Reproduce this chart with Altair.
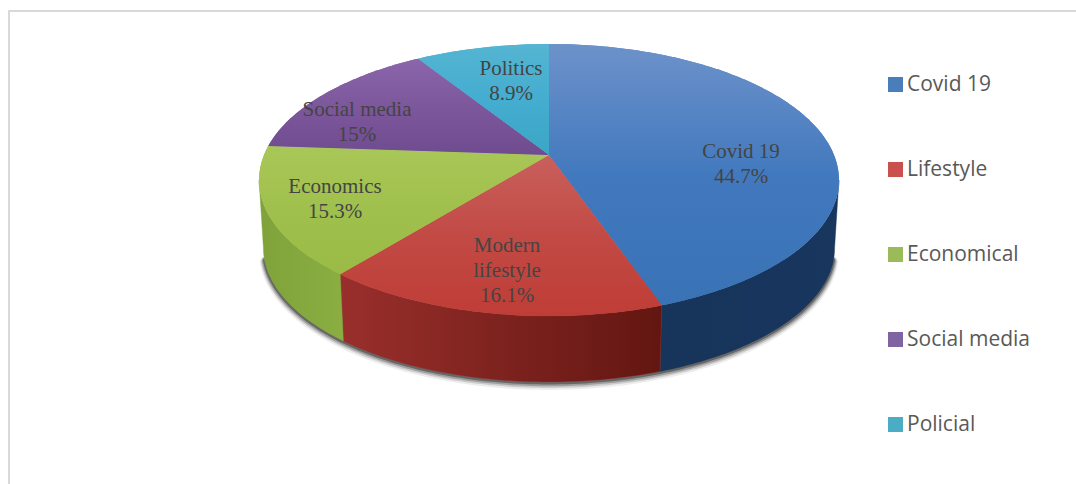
import math
import altair as alt

# Slice values, clockwise from twelve o'clock
SHARES = [44.7, 16.1, 15.3, 15, 8.9]
SLICE_NAMES = ["Covid 19", "Modern\nlifestyle", "Economics", "Social media", "Politics"]
LEGEND_NAMES = ["Covid 19", "Lifestyle", "Economical", "Social media", "Policial"]

FLAT_COLORS = ["#4a7ebb", "#c9504c", "#9bbb59", "#8064a2", "#4bacc6"]
TOP_STOPS = [
    ["#6d92ca", "#4279be", "#3a72b6"],
    ["#c9605c", "#c24a45", "#bf3d36"],
    ["#a9c758", "#a0c04d", "#9abb45"],
    ["#8c66aa", "#7d579c", "#6f4b8f"],
    ["#55b5d2", "#44add0", "#3ba6c6"],
]
SIDE_STOPS = [
    ["#17345a", "#18365e"],
    ["#992f2c", "#631611"],
    ["#7fa33a", "#8bae42"],
]

# Perspective disc: circle coordinates to offsets from the hub
HUB = (549, 155)
RX, RY, TILT = 285.0, 131.4, 0.1838
FLOOR_SCALE, FLOOR_DROP = 0.985, 68.4
# Angles where the rim turns away from the viewer
RIM_RIGHT, RIM_LEFT = 100.6, 259.4


def rim(deg, grow=0.0):
    t = math.radians(deg)
    u, v = math.sin(t), math.cos(t)
    w = 1 + TILT * v
    return [(RX + grow) * u / w, -(RY + grow) * v / w]


def floor(deg, grow=0.0, extra=0.0):
    x, y = rim(deg)
    n = math.hypot(x / RX, y / RY) or 1
    return [x * FLOOR_SCALE + grow * x / RX / n,
            y * FLOOR_SCALE + FLOOR_DROP + extra + grow * y / RY / n]


def sweep(a, b, step=1.0):
    n = max(2, int(abs(b - a) / step) + 1)
    return [a + (b - a) * i / (n - 1) for i in range(n)]


def feature(ring, **props):
    return {"type": "Feature", "properties": props,
            "geometry": {"type": "Polygon", "coordinates": [ring + [ring[0]]]}}


edges = [0.0]
for s in SHARES:
    edges.append(edges[-1] + s * 3.6)

wedges = [
    feature([[0, 0]] + [rim(d) for d in sweep(edges[i], edges[i + 1])], name=LEGEND_NAMES[i])
    for i in range(len(SHARES))
]

walls = []
for i in range(3):
    a, b = max(edges[i], RIM_RIGHT), min(edges[i + 1], RIM_LEFT)
    top = [rim(d) for d in sweep(a, b)]
    bottom = [floor(d) for d in sweep(b, a)]
    walls.append(feature(top + bottom))


def gradient(colors, horizontal=False):
    stops = [alt.GradientStop(color=c, offset=i / (len(colors) - 1)) for i, c in enumerate(colors)]
    return alt.LinearGradient(gradient="linear", stops=stops,
                              x1=0, y1=0, x2=1 if horizontal else 0, y2=0 if horizontal else 1)


def shape(feat, **mark):
    return alt.Chart(alt.Data(values=[feat])).mark_geoshape(**mark).project(
        type="identity", scale=1, translate=list(HUB))


# Soft contact shadow under the disc's front edge
shadow = [
    shape(feature([floor(d, grow, extra) for d in sweep(104, 256)]),
          fill="#000000", fillOpacity=op, strokeWidth=0)
    for grow, extra, op in [(4.5, 3.5, 0.07), (3.5, 2.5, 0.14), (2.5, 1.8, 0.22), (1.5, 1.0, 0.35)]
]

wall_layers = [
    shape(walls[i], fill=gradient(SIDE_STOPS[i], horizontal=True),
          stroke=SIDE_STOPS[i][0], strokeWidth=0.4)
    for i in range(3)
]

# Flat wedges carry the legend; shaded wedges sit on top of them
base = alt.Chart(alt.Data(values=wedges)).mark_geoshape(strokeWidth=0).encode(
    color=alt.Color(
        "properties.name:N",
        scale=alt.Scale(domain=LEGEND_NAMES, range=FLAT_COLORS),
        sort=LEGEND_NAMES,
        legend=alt.Legend(
            title=None, orient="none", legendX=885, legendY=74,
            symbolType="square", symbolSize=225, symbolStrokeWidth=0, symbolOpacity=1,
            labelFont="Open Sans", labelFontSize=21, labelColor="#595959",
            labelOffset=1, rowPadding=63, labelLimit=185,
        ),
    )
).project(type="identity", scale=1, translate=list(HUB))

shaded = [shape(wedges[i], fill=gradient(TOP_STOPS[i]), strokeWidth=0) for i in range(len(SHARES))]

# First-line positions of the slice labels, as offsets from the hub
LABEL_OFFSETS = [(192, -3), (-42, 91), (-214, 32), (-192, -45), (-38, -86)]
label_rows = [
    {"text": f"{name}\n{share:g}%", "lon": off[0], "lat": off[1]}
    for name, share, off in zip(SLICE_NAMES, SHARES, LABEL_OFFSETS)
]
labels = alt.Chart(alt.Data(values=label_rows)).mark_text(
    font="Liberation Serif", fontSize=21, color="#444444",
    lineBreak="\n", lineHeight=25, align="center", baseline="middle",
).encode(longitude="lon:Q", latitude="lat:Q", text="text:N").project(
    type="identity", scale=1, translate=list(HUB))

frame_left = alt.Chart(alt.Data(values=[{"a": 0}])).mark_rule(color="#d9d9d9", strokeWidth=2).encode(
    x=alt.value(9), y=alt.value(10), y2=alt.value(484))
frame_top = alt.Chart(alt.Data(values=[{"a": 0}])).mark_rule(color="#d9d9d9", strokeWidth=2).encode(
    x=alt.value(8), x2=alt.value(1076), y=alt.value(11))

chart = alt.layer(
    frame_left, frame_top, *shadow, *wall_layers, base, *shaded, labels
).properties(
    width=1076, height=484, padding=0,
    autosize=alt.AutoSizeParams(type="none"),
    background="#ffffff",
).configure_view(stroke=None)

chart.save("out.html", embed_options={"renderer": "svg", "actions": False})
